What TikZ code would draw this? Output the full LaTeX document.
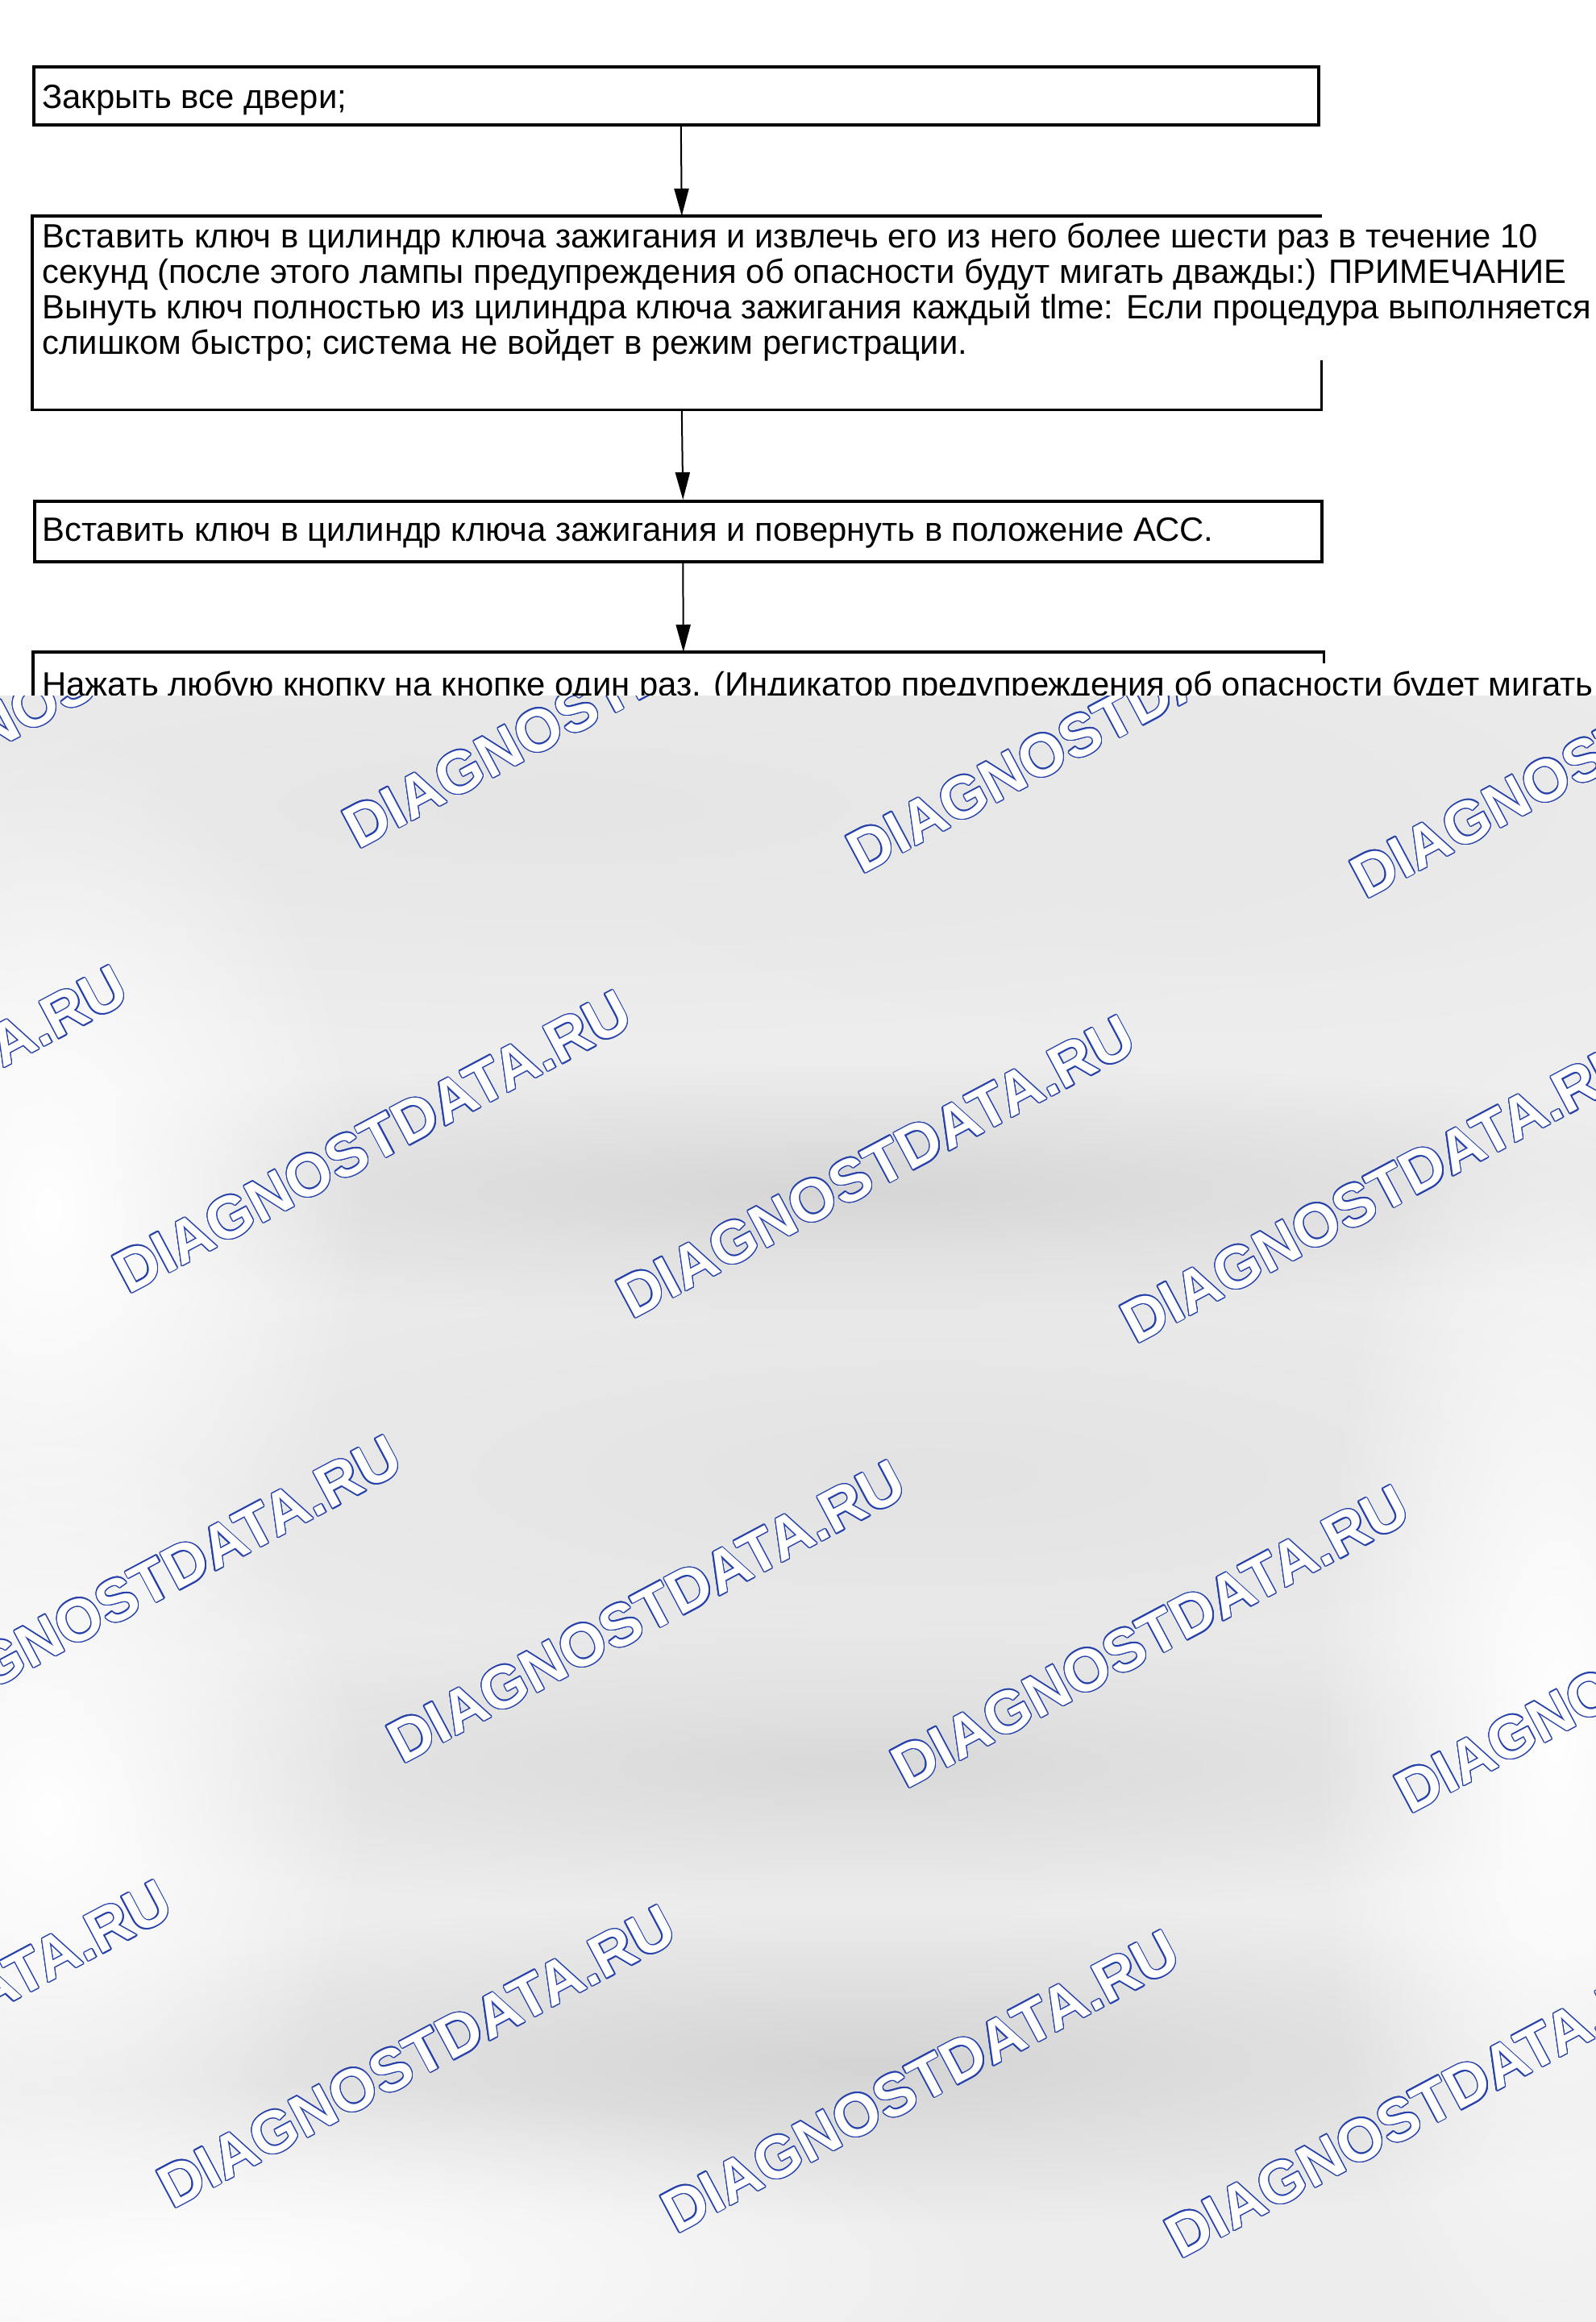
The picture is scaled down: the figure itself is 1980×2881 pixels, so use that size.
\documentclass[tikz,border=0pt]{standalone}
\usepackage{fontspec}
\setmainfont{Liberation Sans}
\usepackage{contour}
\contourlength{0.7pt}
\contournumber{16}
\usetikzlibrary{positioning,fadings,arrows.meta}

\definecolor{wmblue}{RGB}{38,66,170}
\definecolor{fogbase}{RGB}{237,237,237}
\tikzfading[name=blobfade, inner color=transparent!0, outer color=transparent!100]

\tikzset{
  boxline/.style={black, line width=1.8pt},
  stepbox/.style={boxline, draw, anchor=north west, inner sep=0pt},
  steptext/.style={anchor=base west, inner sep=0pt, align=left,
    font=\fontsize{20.9pt}{22pt}\selectfont},
  flowarrow/.style={black, line width=1pt, -{Triangle[length=17pt,width=9pt]}},
  wmark/.style={rotate=28, inner sep=0pt, text=white,
    font=\bfseries\fontsize{37pt}{37pt}\selectfont},
  blob/.style={path fading=blobfade}
}

\begin{document}
\begin{tikzpicture}[x=0.5pt,y=0.5pt]
    \useasboundingbox (0,0) rectangle (1980,-2881);
    \fill[white] (0,0) rectangle (1980,-2881);
    % step boxes
    \node[stepbox, minimum width=797pt, minimum height=36pt] (box1) at (40,-81) {};
    \node[stepbox, draw=none, minimum width=798pt, minimum height=118.5pt] (box2) at (40,-268) {};
    \node[stepbox, minimum width=798.5pt, minimum height=37.5pt] (box3) at (41,-620) {};
    \node[stepbox, draw=none, minimum width=799pt, minimum height=60pt] (box4) at (41,-809) {};
    \draw[boxline] (box2.east |- 0,-447) -- (box2.south east) -- (box2.south west) -- (box2.north west) -- (box2.north east);
    \draw[boxline] (box4.east |- 0,-823) -- (box4.north east) -- (box4.north west) -- (box4.south west);
    % texts (a multi-line node sits on its last line)
    \node[steptext] (txt1) at (52,-134) {Закрыть все двери;};
    \node[steptext] (txt2) at (52,-439) {Вставить ключ в цилиндр ключа зажигания и извлечь его из него более шести раз в течение 10\\
      секунд (после этого лампы предупреждения об опасности будут мигать дважды:) ПРИМЕЧАНИЕ\\
      Вынуть ключ полностью из цилиндра ключа зажигания каждый tlme: Если процедура выполняется\\
      слишком быстро; система не войдет в режим регистрации.};
    \node[steptext] (txt3) at (52,-671) {Вставить ключ в цилиндр ключа зажигания и повернуть в положение АСС.};
    \node[steptext] (txt4) at (52,-863) {Нажать любую кнопку на кнопке один раз. (Индикатор предупреждения об опасности будет мигать};
    % arrows
    \draw[flowarrow] ([xshift=3pt]box1.south) -- ([xshift=3pt]box2.north);
    \draw[flowarrow] ([xshift=3pt]box2.south) -- ([xshift=3pt]box3.north);
    \draw[flowarrow] ([xshift=3pt]box3.south) -- ([xshift=3pt]box4.north);
    % blurred lower part
    \begin{scope}
      \clip (0,-863) rectangle (1980,-2881);
      \fill[fogbase] (0,-863) rectangle (1980,-2881);
      \foreach \bx/\by/\rx/\ry/\tone in {1050/1478/650/80/16, 1070/2190/600/90/15, 1070/2560/600/100/17,
          1150/1830/700/170/11, 700/1000/700/140/10, 1500/1000/400/140/9}
        \fill[black!\tone, blob] (\bx,-\by) ellipse ({2*\rx} and {2*\ry});
      \foreach \bx/\by/\rx/\ry in {60/1500/200/300, 60/2250/200/250, 250/2820/500/120, 1930/2150/150/450}
        \fill[white, blob] (\bx,-\by) ellipse ({2*\rx} and {2*\ry});
      % watermark grid
      \foreach \i/\j in {0/-1, 1/-1, 2/-1, 3/-1, -1/0, 0/0, 1/0, 2/0,
          -1/1, 0/1, 1/1, 2/1, -2/2, -1/2, 0/2, 1/2}
        \node[wmark] (wm\i\j) at ({462+625*\i+340*\j},{-1417-31*\i-583*\j}) {\contour{wmblue}{DIAGNOSTDATA.RU}};
    \end{scope}
\end{tikzpicture}
\end{document}
